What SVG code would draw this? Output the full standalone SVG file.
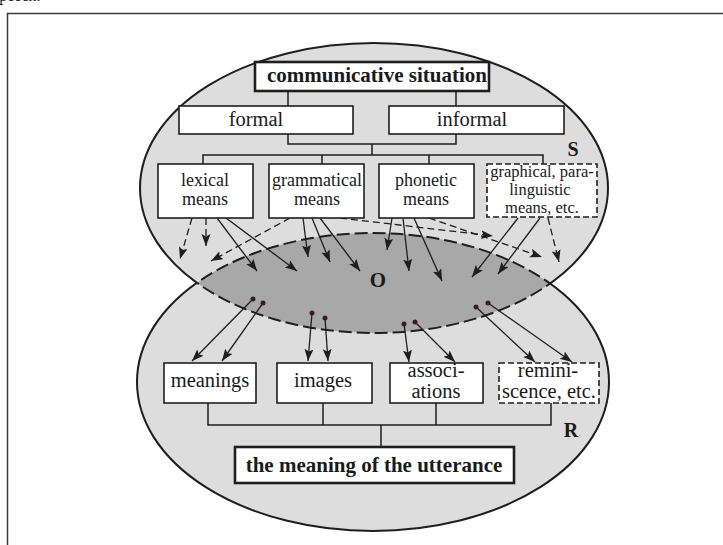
<svg xmlns="http://www.w3.org/2000/svg" width="723" height="545" viewBox="0 0 723 545">
<style>
  text { font-family: "Liberation Serif", "Times New Roman", serif; fill: #1a1a1a; }
  .b { font-weight: bold; }
  .box { fill: #ffffff; stroke: #1e1e1e; stroke-width: 1.6; }
  .boxb { fill: #ffffff; stroke: #1e1e1e; stroke-width: 2.6; }
  .boxd { fill: #ffffff; stroke: #1e1e1e; stroke-width: 1.6; stroke-dasharray: 6 3; }
  .ln { fill: none; stroke: #1e1e1e; stroke-width: 1.5; }
  .ar { fill: none; stroke: #1e1e1e; stroke-width: 1.3; marker-end: url(#ah); }
  .ard { fill: none; stroke: #1e1e1e; stroke-width: 1.3; stroke-dasharray: 7 4; marker-end: url(#ah); }
  .dot { fill: #3a1c24; }
  .edge { fill: none; stroke: #1e1e1e; stroke-width: 2; }
  .edged { fill: none; stroke: #1e1e1e; stroke-width: 2; stroke-dasharray: 13 5; }
</style>
<defs>
  <marker id="ah" markerUnits="userSpaceOnUse" markerWidth="13" markerHeight="10" refX="12" refY="4.5" orient="auto">
    <path d="M0,0 L12,4.5 L0,9 L2.5,4.5 Z" fill="#1e1e1e"/>
  </marker>
  <clipPath id="inLower"><ellipse cx="373" cy="382" rx="236" ry="149"/></clipPath>
  <clipPath id="inUpper"><ellipse cx="374" cy="188" rx="234" ry="145"/></clipPath>
  <mask id="outLower" maskUnits="userSpaceOnUse" x="0" y="0" width="723" height="545">
    <rect x="0" y="0" width="723" height="545" fill="#fff"/>
    <ellipse cx="373" cy="382" rx="236" ry="149" fill="#000"/>
  </mask>
  <mask id="outUpper" maskUnits="userSpaceOnUse" x="0" y="0" width="723" height="545">
    <rect x="0" y="0" width="723" height="545" fill="#fff"/>
    <ellipse cx="374" cy="188" rx="234" ry="145" fill="#000"/>
  </mask>
</defs>

<rect width="723" height="545" fill="#ffffff"/>
<text x="-7" y="1" font-size="16">speech.</text>
<rect x="7.5" y="13.5" width="760" height="600" fill="none" stroke="#3a3a3a" stroke-width="1.5"/>

<g id="regions">
  <ellipse cx="373" cy="382" rx="236" ry="149" fill="#dddddd"/>
  <ellipse cx="374" cy="188" rx="234" ry="145" fill="#dddddd"/>
  <ellipse cx="374" cy="188" rx="234" ry="145" fill="#a8a8a8" clip-path="url(#inLower)"/>
  <ellipse class="edge" cx="374" cy="188" rx="234" ry="145" mask="url(#outLower)"/>
  <ellipse class="edged" cx="374" cy="188" rx="234" ry="145" clip-path="url(#inLower)"/>
  <ellipse class="edge" cx="373" cy="382" rx="236" ry="149" mask="url(#outUpper)"/>
  <ellipse class="edged" cx="373" cy="382" rx="236" ry="149" clip-path="url(#inUpper)"/>
  <text class="b" x="573" y="156" font-size="20" text-anchor="middle">S</text>
  <text class="b" x="378" y="287" font-size="21" text-anchor="middle">O</text>
  <text class="b" x="571" y="437" font-size="20" text-anchor="middle">R</text>
</g>

<g id="connectors">
  <path class="ln" d="M288,91 V106 M456,91 V106"/>
  <path class="ln" d="M288,134 V144 H456 V134 M372,144 V155"/>
  <path class="ln" d="M203,164 V155 H543 V164 M322,155 V164 M429,155 V164"/>
  <path class="ln" d="M208,403 V425 H551 V403 M323,403 V425 M436,403 V425 M381,425 V447"/>

  <line class="ard" x1="192" y1="218" x2="180" y2="259"/>
  <line class="ard" x1="206" y1="218" x2="206" y2="246"/>
  <line class="ar" x1="217" y1="218" x2="257" y2="271"/>
  <line class="ar" x1="226" y1="218" x2="297" y2="271"/>

  <line class="ard" x1="290" y1="218" x2="211" y2="261"/>
  <line class="ar" x1="303" y1="218" x2="308" y2="257"/>
  <line class="ar" x1="312" y1="218" x2="330" y2="262"/>
  <line class="ar" x1="320" y1="218" x2="360" y2="271"/>
  <line class="ard" x1="340" y1="218" x2="493" y2="236"/>

  <line class="ar" x1="392" y1="218" x2="387" y2="250"/>
  <line class="ar" x1="403" y1="218" x2="409" y2="271"/>
  <line class="ar" x1="414" y1="218" x2="442" y2="281"/>
  <line class="ard" x1="429" y1="218" x2="542" y2="257"/>

  <line class="ar" x1="518" y1="218" x2="472" y2="277"/>
  <line class="ar" x1="540" y1="218" x2="498" y2="274"/>
  <line class="ard" x1="548" y1="218" x2="559" y2="262"/>

  <line class="ar" x1="253" y1="299" x2="192" y2="361"/>
  <line class="ar" x1="263" y1="303" x2="222" y2="361"/>
  <line class="ar" x1="312" y1="313" x2="308" y2="361"/>
  <line class="ar" x1="325" y1="318" x2="328" y2="361"/>
  <line class="ar" x1="404" y1="324" x2="409" y2="362"/>
  <line class="ar" x1="415" y1="322" x2="455" y2="362"/>
  <line class="ar" x1="476" y1="307" x2="535" y2="362"/>
  <line class="ar" x1="488" y1="303" x2="572" y2="362"/>
  <circle class="dot" cx="253" cy="299" r="2.5"/>
  <circle class="dot" cx="263" cy="303" r="2.5"/>
  <circle class="dot" cx="312" cy="313" r="2.5"/>
  <circle class="dot" cx="325" cy="318" r="2.5"/>
  <circle class="dot" cx="404" cy="324" r="2.5"/>
  <circle class="dot" cx="415" cy="322" r="2.5"/>
  <circle class="dot" cx="476" cy="307" r="2.5"/>
  <circle class="dot" cx="488" cy="303" r="2.5"/>
</g>

<g id="communicative-situation">
  <rect class="boxb" x="255" y="62" width="234" height="29"/>
  <text class="b" x="377" y="82" font-size="21" text-anchor="middle">communicative situation</text>
</g>
<g id="formal">
  <rect class="box" x="179" y="106" width="174" height="28"/>
  <text x="256" y="126" font-size="20.5" text-anchor="middle">formal</text>
</g>
<g id="informal">
  <rect class="box" x="389" y="106" width="175" height="28"/>
  <text x="472" y="126" font-size="20.5" text-anchor="middle">informal</text>
</g>
<g id="lexical-means">
  <rect class="box" x="158" y="164" width="95" height="54"/>
  <text x="205" y="186" font-size="18" text-anchor="middle">lexical</text>
  <text x="205" y="205" font-size="18" text-anchor="middle">means</text>
</g>
<g id="grammatical-means">
  <rect class="box" x="269" y="164" width="95" height="54"/>
  <text x="317" y="186" font-size="18" text-anchor="middle">grammatical</text>
  <text x="317" y="205" font-size="18" text-anchor="middle">means</text>
</g>
<g id="phonetic-means">
  <rect class="box" x="379" y="164" width="95" height="54"/>
  <text x="426" y="186" font-size="18" text-anchor="middle">phonetic</text>
  <text x="426" y="205" font-size="18" text-anchor="middle">means</text>
</g>
<g id="graphical-means">
  <rect class="boxd" x="487" y="164" width="110" height="53"/>
  <text x="542" y="177" font-size="16.5" text-anchor="middle">graphical, para-</text>
  <text x="540" y="195" font-size="16.5" text-anchor="middle">linguistic</text>
  <text x="542" y="213" font-size="16.5" text-anchor="middle">means, etc.</text>
</g>
<g id="meanings">
  <rect class="box" x="164" y="363" width="92" height="40"/>
  <text x="210" y="387" font-size="20.5" text-anchor="middle">meanings</text>
</g>
<g id="images">
  <rect class="box" x="277" y="363" width="95" height="40"/>
  <text x="323" y="387" font-size="20.5" text-anchor="middle">images</text>
</g>
<g id="associations">
  <rect class="box" x="390" y="363" width="93" height="40"/>
  <text x="436" y="377" font-size="20.5" text-anchor="middle">associ-</text>
  <text x="436" y="398" font-size="20.5" text-anchor="middle">ations</text>
</g>
<g id="reminiscence">
  <rect class="boxd" x="499" y="363" width="100" height="40"/>
  <text x="548" y="377" font-size="20.5" text-anchor="middle">remini-</text>
  <text x="549" y="398" font-size="20.5" text-anchor="middle">scence, etc.</text>
</g>
<g id="meaning-of-utterance">
  <rect class="boxb" x="235" y="447" width="279" height="36"/>
  <text class="b" x="374" y="472" font-size="21" text-anchor="middle">the meaning of the utterance</text>
</g>
</svg>
